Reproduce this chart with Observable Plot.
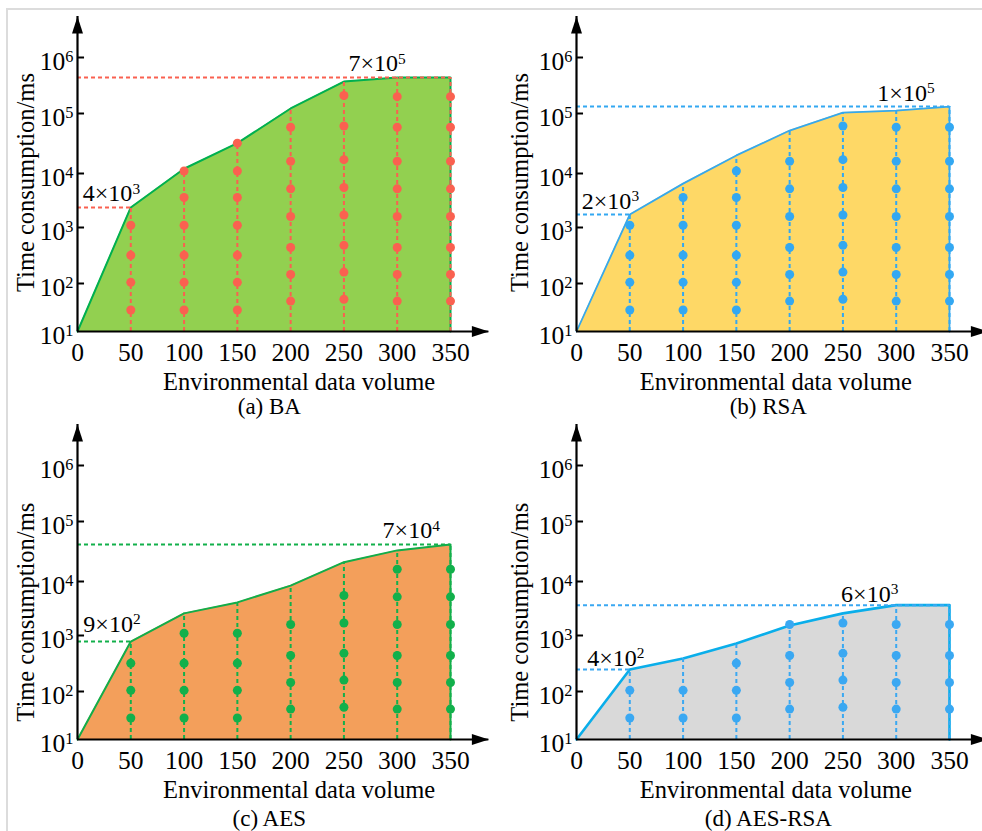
<!DOCTYPE html>
<html><head><meta charset="utf-8">
<script src="https://cdn.jsdelivr.net/npm/d3@7"></script>
<script src="https://cdn.jsdelivr.net/npm/@observablehq/plot@0.6"></script>
<style>
body{margin:0;background:#fff;}
#wrap{position:relative;width:982px;height:831px;overflow:hidden;background:#fff;}
#frame{position:absolute;left:6px;top:8px;width:1000px;height:900px;border-left:2px solid #dcdcdc;border-top:2px solid #dcdcdc;}
.panel{position:absolute;}
</style></head><body><div id="wrap"><div id="frame"></div></div>
<script>
// ---- data ----
const volumes = [0, 50, 100, 150, 200, 250, 300, 350];
const xTicks = [0, 50, 100, 150, 200, 250, 300, 350];
const yTicks = [1e1, 1e2, 1e3, 1e4, 1e5, 1e6];
const yTickLabels = ["10^1", "10^2", "10^3", "10^4", "10^5", "10^6"];

const topBA     = [10, 2350, 12000, 32000, 123000, 372000, 440000, 440000];
const topRSA    = [10, 1740, 6500, 20000, 52000, 104000, 113000, 133000];
const topAES    = [10, 780, 2570, 4100, 8400, 21000, 33000, 41500];
const topAESRSA = [10, 247, 390, 720, 1530, 2570, 3650, 3650];

// marker values on each vertical line (x = 50 ... 350)
const dotsBA = [
  [28, 105, 320, 1100],
  [28, 105, 320, 1100, 3600, 11000],
  [28, 105, 320, 1100, 3600, 11000, 32000],
  [43, 145, 440, 1600, 5200, 16000, 59000],
  [47, 160, 480, 1700, 5500, 17000, 62000, 210000],
  [43, 145, 440, 1600, 5200, 16000, 59000, 200000],
  [43, 145, 440, 1600, 5200, 16000, 59000, 200000]
];
const dotsRSA = [
  [28, 105, 320, 1100],
  [28, 105, 320, 1100, 3600],
  [28, 105, 320, 1100, 3600, 11000],
  [43, 145, 440, 1600, 5200, 16000],
  [47, 160, 480, 1700, 5500, 17000, 62000],
  [43, 145, 440, 1600, 5200, 16000, 59000],
  [43, 145, 440, 1600, 5200, 16000, 59000]
];
const dotsAES = [
  [28, 105, 320],
  [28, 105, 320, 1100],
  [28, 105, 320, 1100],
  [43, 145, 440, 1600],
  [47, 160, 480, 1700, 5500],
  [43, 145, 440, 1600, 5200, 16000],
  [43, 145, 440, 1600, 5200, 16000]
];
const dotsAESRSA = [
  [28, 105],
  [28, 105],
  [28, 105, 320],
  [43, 145, 440, 1600],
  [47, 160, 480, 1700],
  [43, 145, 440, 1600],
  [43, 145, 440, 1600]
];

const lowLabels  = ["4×10^3", "2×10^3", "9×10^2", "4×10^2"];
const highLabels = ["7×10^5", "1×10^5", "7×10^4", "6×10^3"];
const captions   = ["(a) BA", "(b) RSA", "(c) AES", "(d) AES-RSA"];
const xTitle = "Environmental data volume";
const yTitle = "Time consumption/ms";

// ---- layout / style ----
const tickOffsets = [0, 48, 104, 158, 218, 274];
const panels = [
  {left: 0,   top: 0,   h: 415, ox: 77, base: 331, topV: topBA, dots: dotsBA, fill: "#92d050", line: "#00b050", lw: 2, accent: "#fa6150", lowX: 5, highX: 308, xT: 208, yTy: 6800, capDy: 75, lowDy: -6, highDy: -6},
  {left: 491, top: 0,   h: 415, ox: 85, base: 331, topV: topRSA, dots: dotsRSA, fill: "#fed866", line: "#35a8ee", lw: 1.8, accent: "#33a8f2", lowX: 5, highX: 336, xT: 187, yTy: 6800, capDy: 75, lowDy: -6, highDy: -6},
  {left: 0,   top: 415, h: 416, ox: 77, base: 324, topV: topAES, dots: dotsAES, fill: "#f39f5b", line: "#12ad4a", lw: 2, accent: "#12b04b", lowX: 5.5, highX: 340, xT: 208, yTy: 2700, capDy: 79, lowDy: -10, highDy: -6},
  {left: 491, top: 415, h: 416, ox: 85, base: 324, topV: topAESRSA, dots: dotsAESRSA, fill: "#d9d9d9", line: "#0aaeea", lw: 2.6, accent: "#3aa8f2", lowX: 10, highX: 302, xT: 187, yTy: 2700, capDy: 79, lowDy: -4, highDy: -3}
];
const pxPerUnit = 373 / 350;
const yAxisTop = 5.4e6;
const xAxisEnd = 386;

const arrowUp = {draw(ctx) { ctx.moveTo(0, 0); ctx.lineTo(5.5, 17); ctx.lineTo(-5.5, 17); ctx.closePath(); }};
const arrowRight = {draw(ctx) { ctx.moveTo(0, 0); ctx.lineTo(-17, -5.5); ctx.lineTo(-17, 5.5); ctx.closePath(); }};

const FONT = "'Liberation Serif', 'Times New Roman', serif";
const ns = "http://www.w3.org/2000/svg";

function supify(svg) {
  svg.querySelectorAll("text").forEach(t => {
    const s = t.textContent; const k = s.indexOf("^");
    if (k < 0) return;
    t.textContent = "";
    const a = document.createElementNS(ns, "tspan"); a.textContent = s.slice(0, k);
    const b = document.createElementNS(ns, "tspan"); b.textContent = s.slice(k + 1);
    b.setAttribute("font-size", "0.64em"); b.setAttribute("dy", "-0.5em");
    t.append(a, b);
  });
}

panels.forEach((p, idx) => {
  const topData = volumes.map((x, i) => ({x, v: p.topV[i]}));
  const outline = [...topData, {x: volumes[volumes.length - 1], v: yTicks[0]}];
  const verticals = topData.slice(1);
  const dots = p.dots.flatMap((arr, i) => arr.map(v => ({x: volumes[i + 1], v})));
  const refs = [topData[1], topData[topData.length - 1]];

  const chart = Plot.plot({
    width: 491, height: p.h, margin: 0,
    x: {type: "linear", domain: [0, 350], range: [p.ox, p.ox + 350 * pxPerUnit], axis: null},
    y: {type: "log", domain: yTicks, range: tickOffsets.map(o => p.base - o), axis: null},
    style: {fontFamily: FONT, background: "transparent", overflow: "visible", color: "#000"},
    marks: [
      Plot.areaY(topData, {x: "x", y1: yTicks[0], y2: "v", fill: p.fill, curve: "linear"}),
      Plot.line(outline, {x: "x", y: "v", stroke: p.line, strokeWidth: p.lw}),
      Plot.ruleX(verticals, {x: "x", y1: yTicks[0], y2: "v", stroke: p.accent, strokeWidth: 2, strokeDasharray: "4,3"}),
      Plot.ruleY(refs, {y: "v", x1: 0, x2: "x", stroke: p.accent, strokeWidth: 2, strokeDasharray: "4,3"}),
      Plot.dot(dots, {x: "x", y: "v", r: 4.5, fill: p.accent, stroke: "none"}),
      // axes
      Plot.ruleX([0], {x: d => d, y1: yTicks[0], y2: yAxisTop, stroke: "#000", strokeWidth: 2.2}),
      Plot.ruleY([yTicks[0]], {y: d => d, x1: 0, x2: xAxisEnd, stroke: "#000", strokeWidth: 2.2}),
      Plot.dot([0], {x: 0, y: yAxisTop, symbol: arrowUp, fill: "#000", stroke: "none"}),
      Plot.dot([0], {x: xAxisEnd, y: yTicks[0], symbol: arrowRight, fill: "#000", stroke: "none"}),
      Plot.ruleY(yTicks.slice(1), {y: d => d, x1: 0, x2: 6.6, stroke: "#000", strokeWidth: 2}),
      Plot.text(yTicks, {x: 0, y: d => d, text: (d, i) => yTickLabels[i], textAnchor: "end", dx: -4, dy: 4, fontSize: 25.5}),
      Plot.text(xTicks, {x: d => d, y: yTicks[0], text: d => String(d), dy: 21, fontSize: 25.5}),
      // annotations
      Plot.text([refs[0]], {x: p.lowX, y: "v", text: () => lowLabels[idx], textAnchor: "start", lineAnchor: "bottom", dy: p.lowDy, fontSize: 24}),
      Plot.text([refs[1]], {x: p.highX, y: "v", text: () => highLabels[idx], textAnchor: "end", lineAnchor: "bottom", dy: p.highDy, fontSize: 24}),
      // titles
      Plot.text([xTitle], {x: p.xT, y: yTicks[0], text: d => d, dy: 51, fontSize: 24.5}),
      Plot.text([captions[idx]], {x: 180, y: yTicks[0], text: d => d, dy: p.capDy, fontSize: 23}),
      Plot.text([yTitle], {x: -48 - (idx % 2) * 4.5, y: p.yTy, text: d => d, rotate: -90, fontSize: 24.5})
    ]
  });
  supify(chart);
  chart.classList.add("panel");
  chart.style.left = p.left + "px";
  chart.style.top = p.top + "px";
  document.getElementById("wrap").appendChild(chart);
});
</script></body></html>
